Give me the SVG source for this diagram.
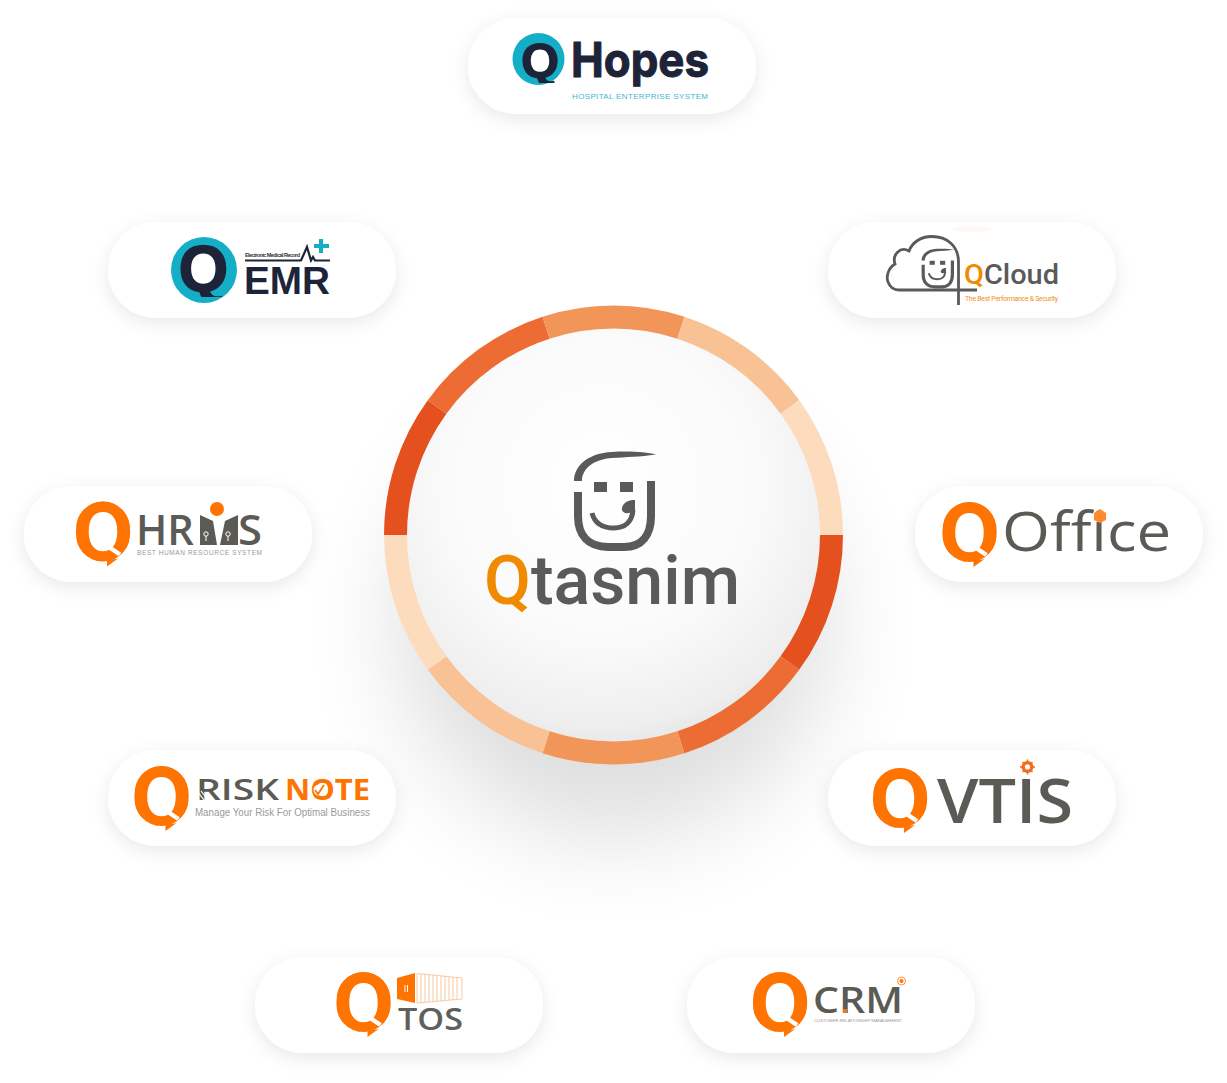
<svg xmlns="http://www.w3.org/2000/svg" width="1227" height="1083" viewBox="0 0 1227 1083">
<style>
text{font-family:"Liberation Sans",Arial,sans-serif;font-variant-ligatures:none}
.pill{fill:#fff;filter:url(#ps)}
.q{font-weight:700;font-size:82px;fill:#ff7300;text-anchor:middle;stroke:#ff7300;stroke-width:2px}
.qclip{clip-path:url(#qc)}
.qd{font-weight:700;fill:#1d2439;text-anchor:middle}
.navy{fill:#1d2439}
.gr{fill:#5b5a54}
.lt{fill:#9a9a9a}
.or{fill:#ff7300}
.cut{stroke:#fff;stroke-width:4.5;fill:none}
.face{fill:none;stroke:#5a5a5a;stroke-width:8}
.seg{fill:none;stroke-width:23}
.rob{font-family:Roboto,"Liberation Sans",sans-serif}
.ops{font-family:"Open Sans","Liberation Sans",sans-serif}
</style>
<defs>
<clipPath id="qc"><ellipse cx="0" cy="0" rx="28" ry="30"/></clipPath>
<clipPath id="hc"><rect x="510" y="30" width="60" height="53"/></clipPath>
<clipPath id="ec"><rect x="170" y="235" width="70" height="62"/></clipPath>
<filter id="ps" x="-20%" y="-40%" width="140%" height="190%"><feDropShadow dx="0" dy="5" stdDeviation="9" flood-color="#000" flood-opacity="0.09"/></filter>
<filter id="big" x="-50%" y="-50%" width="200%" height="200%"><feGaussianBlur stdDeviation="50"/></filter>
<radialGradient id="disc" cx="0.47" cy="0.38" r="0.68"><stop offset="0" stop-color="#fff"/><stop offset="0.55" stop-color="#fafafa"/><stop offset="0.85" stop-color="#eeeeee"/><stop offset="1" stop-color="#e0e0e0"/></radialGradient>
<g id="smile">
<path d="M574 481C574 466 588 453 612 452C630 451 646 452 656 454.500C640 457 626 457 612 458C595 459 582 468 582 481Z" fill="#5a5a5a"/>
<path class="face" d="M578 492V516C578 535 588 547 608 547H624C642 547 651 535 651 516V481"/>
<rect x="594" y="482" width="13" height="10" fill="#5a5a5a"/><rect x="620" y="482" width="13" height="10" fill="#5a5a5a"/>
<path d="M592 513C595 525 605 528 614 528C625 528 632 522 633 510" fill="none" stroke="#5a5a5a" stroke-width="5"/>
<path d="M635 500C626 499 621 506 622 510C624 515 630 513 635 511Z" fill="#5a5a5a"/>
</g>
</defs>

<circle cx="613.500" cy="622" r="215" fill="#000" opacity="0.13" filter="url(#big)"/>

<g id="hub">
<circle cx="613.500" cy="535" r="210" fill="url(#disc)"/>
<g id="ring">
<path class="seg" stroke="#e4511e" d="M831.500 535A218 218 0 0 1 789.900 663.100"/>
<path class="seg" stroke="#ec6c34" d="M789.900 663.100A218 218 0 0 1 680.900 742.300"/>
<path class="seg" stroke="#f29559" d="M680.900 742.300A218 218 0 0 1 546.100 742.300"/>
<path class="seg" stroke="#f8c294" d="M546.100 742.300A218 218 0 0 1 437.100 663.100"/>
<path class="seg" stroke="#fddcbe" d="M437.100 663.100A218 218 0 0 1 395.500 535"/>
<path class="seg" stroke="#e4511e" d="M395.500 535A218 218 0 0 1 437.100 406.900"/>
<path class="seg" stroke="#ec6c34" d="M437.100 406.900A218 218 0 0 1 546.100 327.700"/>
<path class="seg" stroke="#f29559" d="M546.100 327.700A218 218 0 0 1 680.900 327.700"/>
<path class="seg" stroke="#f8c294" d="M680.900 327.700A218 218 0 0 1 789.900 406.900"/>
<path class="seg" stroke="#fddcbe" d="M789.900 406.900A218 218 0 0 1 831.500 535"/>
</g>
<use href="#smile"/>
<text class="rob" x="484" y="604" font-size="68" font-weight="500" fill="#5a5a5a" textLength="256" lengthAdjust="spacingAndGlyphs"><tspan fill="#f08a00">Q</tspan>tasnim</text>
</g>

<g id="node-qhopes">
<rect class="pill" x="468" y="18" width="288" height="96" rx="48"/>
<circle cx="538.500" cy="59" r="26" fill="#14aec6"/>
<circle cx="540" cy="59" r="13" fill="#fff"/>
<g clip-path="url(#hc)"><text class="qd" x="540" y="77" font-size="49" stroke="#1d2439" stroke-width="1.200">Q</text></g>
<text class="navy" style="font-family:Inter,'Liberation Sans',sans-serif" x="571" y="77" font-size="48" font-weight="700" stroke="#1d2439" stroke-width="1" stroke-linejoin="round" textLength="138" lengthAdjust="spacingAndGlyphs">Hopes</text>
<text x="572" y="99" font-size="8" fill="#40b8d0" textLength="136" lengthAdjust="spacing">HOSPITAL ENTERPRISE SYSTEM</text>
</g>

<g id="node-qemr">
<rect class="pill" x="108" y="222" width="288" height="96" rx="48"/>
<circle cx="204" cy="270" r="33" fill="#14aec6"/>
<circle cx="203" cy="268" r="16" fill="#fff"/>
<g clip-path="url(#ec)"><text class="qd" x="203.500" y="291" font-size="64" stroke="#1d2439" stroke-width="1.400">Q</text></g>
<text x="245" y="257" font-size="5.500" font-weight="700" fill="#333" textLength="55">Electronic Medical Record</text>
<path d="M245 260.500H301L307 247L311 260.500L313 257L315 260.500H330" fill="none" stroke="#1d2439" stroke-width="2.200"/>
<path d="M321 239V253M314 246H329" fill="none" stroke="#14aec6" stroke-width="4"/>
<text class="navy" x="244" y="294" font-size="38" font-weight="700" textLength="86" lengthAdjust="spacingAndGlyphs">EMR</text>
</g>

<g id="node-qcloud">
<rect class="pill" x="828" y="222" width="288" height="96" rx="48"/>
<ellipse cx="972" cy="229" rx="20" ry="3" fill="#fdeee6" opacity="0.4"/>
<path d="M958.500 305V262C958.500 246 947 236.500 932 236.500C920 236.500 912 243 909 251C900 246 892 255 895 264C888 268 886 277 888 282C890 287 894 290 899 290H977" fill="none" stroke="#5a5a5a" stroke-width="2.800"/>
<use href="#smile" transform="translate(692 68) scale(0.4)"/>
<text class="rob" x="964" y="284" font-size="28" font-weight="500" fill="#5a5a5a" textLength="95" lengthAdjust="spacingAndGlyphs"><tspan fill="#f08a00">Q</tspan>Cloud</text>
<text class="rob" x="965" y="301" font-size="7" fill="#f09020" textLength="93">The Best Performance &amp; Security</text>
</g>

<g id="node-qhrms">
<rect class="pill" x="24" y="486" width="288" height="96" rx="48"/>
<g transform="translate(103 531.500)">
<g class="qclip"><text class="q" transform="scale(0.92 1.03)" y="29">Q</text></g>
<path class="cut" d="M5 15L17 23"/>
<path class="or" d="M4 35V29L15 27Z"/>
</g>
<text class="ops gr" x="136" y="545" font-size="42" font-weight="600" textLength="58" lengthAdjust="spacingAndGlyphs">HR</text>
<circle cx="217" cy="509" r="7" class="or"/>
<path class="gr" d="M200 515L213 521L217 545H200ZM238 515L225 521L220 545H238Z"/>
<circle cx="206" cy="534" r="2.200" fill="none" stroke="#fff"/><circle cx="228" cy="534" r="2.200" fill="none" stroke="#fff"/>
<path d="M206 536V541M228 536V541" stroke="#fff"/>
<text class="ops gr" x="238" y="545" font-size="42" font-weight="600" textLength="24" lengthAdjust="spacingAndGlyphs">S</text>
<text class="lt" x="137" y="555" font-size="6.500" textLength="125">BEST HUMAN RESOURCE SYSTEM</text>
</g>

<g id="node-qoffice">
<rect class="pill" x="915" y="486" width="288" height="96" rx="48"/>
<g transform="translate(969.500 532)">
<g class="qclip"><text class="q" transform="scale(0.92 1.03)" y="29">Q</text></g>
<path class="cut" d="M5 15L17 23"/>
<path class="or" d="M4 35V29L15 27Z"/>
</g>
<text class="ops gr" x="1002" y="551" font-size="55" font-weight="500" textLength="169" lengthAdjust="spacingAndGlyphs">Office</text>
<path d="M1094 513L1100 509L1106 513L1106 520L1100 523L1094 520Z" fill="#ff8a2a"/>
</g>

<g id="node-qrisknote">
<rect class="pill" x="108" y="750" width="288" height="96" rx="48"/>
<g transform="translate(161.500 796)">
<g class="qclip"><text class="q" transform="scale(0.92 1.03)" y="29">Q</text></g>
<path class="cut" d="M5 15L17 23"/>
<path class="or" d="M4 35V29L15 27Z"/>
</g>
<text class="ops gr" x="196" y="800" font-size="28" font-weight="600" textLength="83" lengthAdjust="spacingAndGlyphs">RISK</text>
<path d="M197 791L204 800M201 791L208 800" stroke="#fff" stroke-width="1.200"/>
<text class="ops or" x="285" y="800" font-size="28" font-weight="700" textLength="85" lengthAdjust="spacingAndGlyphs">NOTE</text>
<circle cx="319" cy="790" r="5.500" fill="#fff"/>
<path d="M315 790L318 794L324 785" fill="none" stroke="#ff7300" stroke-width="1.800"/>
<text class="lt" x="195" y="815.500" font-size="10.500" textLength="175" lengthAdjust="spacingAndGlyphs">Manage Your Risk For Optimal Business</text>
</g>

<g id="node-qvtis">
<rect class="pill" x="828" y="750" width="288" height="96" rx="48"/>
<g transform="translate(900 798)">
<g class="qclip"><text class="q" transform="scale(0.92 1.03)" y="29">Q</text></g>
<path class="cut" d="M5 15L17 23"/>
<path class="or" d="M4 35V29L15 27Z"/>
</g>
<text class="ops gr" x="937" y="823" font-size="61" font-weight="600" textLength="136" lengthAdjust="spacingAndGlyphs">VTIS</text>
<circle cx="1027.500" cy="767" r="4.500" fill="none" stroke="#f26a1b" stroke-width="3"/>
<path d="M1027.500 759.500V774.500M1020 767H1035M1022.500 762L1032.500 772M1032.500 762L1022.500 772" stroke="#f26a1b" stroke-width="1.500" fill="none"/>
<circle cx="1027.500" cy="767" r="2.500" fill="#fff"/>
</g>

<g id="node-qtos">
<rect class="pill" x="255" y="957" width="288" height="96" rx="48"/>
<g transform="translate(363.500 1002)">
<g class="qclip"><text class="q" transform="scale(0.92 1.03)" y="29">Q</text></g>
<path class="cut" d="M5 15L17 23"/>
<path class="or" d="M4 35V29L15 27Z"/>
</g>
<path class="or" d="M397 978L415 973V1003L397 999Z"/>
<path d="M405 985V992M407.500 985V992" stroke="#fff"/>
<path d="M417 973.500L462 978V999L417 1003Z" fill="#fff" stroke="#f9c9a4"/>
<path d="M421 974V1003M425 974V1002M429 975V1002M433 975V1002M437 975V1001M441 976V1001M445 976V1000M449 977V1000M453 977V1000M457 977V999" stroke="#f9c9a4" fill="none"/>
<text x="398" y="1030" font-size="31" fill="#5f5f5c" textLength="65" lengthAdjust="spacingAndGlyphs" class="ops" font-weight="600">TOS</text>
</g>

<g id="node-qcrm">
<rect class="pill" x="687" y="957" width="288" height="96" rx="48"/>
<g transform="translate(780 1002)">
<g class="qclip"><text class="q" transform="scale(0.92 1.03)" y="29">Q</text></g>
<path class="cut" d="M5 15L17 23"/>
<path class="or" d="M4 35V29L15 27Z"/>
</g>
<text class="ops gr" x="813" y="1013" font-size="36" font-weight="600" textLength="90" lengthAdjust="spacingAndGlyphs">CRM</text>
<rect x="843" y="1009" width="4" height="4" class="or"/>
<circle cx="901.500" cy="981" r="2" class="or"/>
<circle cx="901.500" cy="981" r="4" fill="none" stroke="#ff7300" stroke-width="0.800"/>
<text class="lt" x="814" y="1021.500" font-size="4.400" textLength="88">CUSTOMER RELATIONSHIP MANAGEMENT</text>
</g>
</svg>
